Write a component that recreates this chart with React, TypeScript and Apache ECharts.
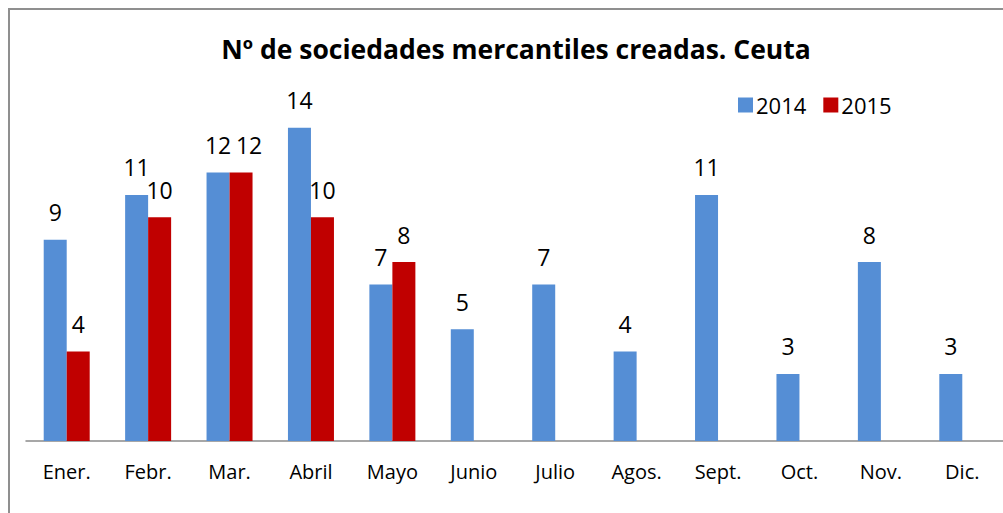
import React, { useEffect, useRef } from "react";
import * as echarts from "echarts";

const months = ["Ener.", "Febr.", "Mar.", "Abril", "Mayo", "Junio", "Julio", "Agos.", "Sept.", "Oct.", "Nov.", "Dic."];
const values2014 = [9, 11, 12, 14, 7, 5, 7, 4, 11, 3, 8, 3];
const values2015: (number | null)[] = [4, 10, 12, 10, 8, null, null, null, null, null, null, null];

const FONT = "'Open Sans', 'Liberation Sans', sans-serif";

export default function App() {
  const ref = useRef<HTMLDivElement>(null);
  useEffect(() => {
    if (!ref.current) return;
    const chart = echarts.init(ref.current, null, { renderer: "svg" });
    const label = {
      show: true,
      position: "top" as const,
      distance: 16,
      color: "#000",
      fontSize: 23,
      fontFamily: FONT,
    };
    // In the original, the 2015 label for March is nudged right so it does not collide with the 2014 label.
    const data2015 = values2015.map((v, i) =>
      i === 2 ? { value: v, label: { offset: [8, 0] } } : v
    );
    chart.setOption({
      animation: false,
      backgroundColor: "#fff",
      title: {
        text: "Nº de sociedades mercantiles creadas. Ceuta",
        left: 511,
        top: 30,
        textAlign: "center",
        textStyle: { fontSize: 26.5, fontWeight: "bold", color: "#000", fontFamily: FONT },
      },
      legend: {
        left: 733,
        top: 89,
        itemWidth: 15,
        itemHeight: 15,
        itemGap: 17,
        icon: "rect",
        textStyle: { fontSize: 22, color: "#000", fontFamily: FONT, padding: [0, 0, 0, -2] },
        data: ["2014", "2015"],
      },
      graphic: [
        {
          type: "rect",
          shape: { x: 9, y: 9, width: 1100, height: 600 },
          style: { fill: "none", stroke: "#8f8f8f", lineWidth: 2 },
          silent: true,
        },
      ],
      grid: { left: 26, right: 0, top: 83, bottom: 72 },
      xAxis: {
        type: "category",
        data: months,
        axisLine: { show: true, lineStyle: { color: "#8a8a8a", width: 1.5 } },
        axisTick: { show: false },
        axisLabel: { color: "#000", fontSize: 20, fontFamily: FONT, margin: 20 },
      },
      yAxis: {
        type: "value",
        min: 0,
        max: 16,
        show: false,
        splitLine: { show: false },
      },
      series: [
        {
          name: "2014",
          type: "bar",
          data: values2014,
          barWidth: 23,
          barGap: "0%",
          itemStyle: { color: "#558ed5" },
          label,
        },
        {
          name: "2015",
          type: "bar",
          data: data2015,
          barWidth: 23,
          itemStyle: { color: "#c00000" },
          label,
        },
      ],
    });
    return () => chart.dispose();
  }, []);
  return <div ref={ref} style={{ position: "fixed", left: 0, top: 0, width: 1003, height: 513 }} />;
}
